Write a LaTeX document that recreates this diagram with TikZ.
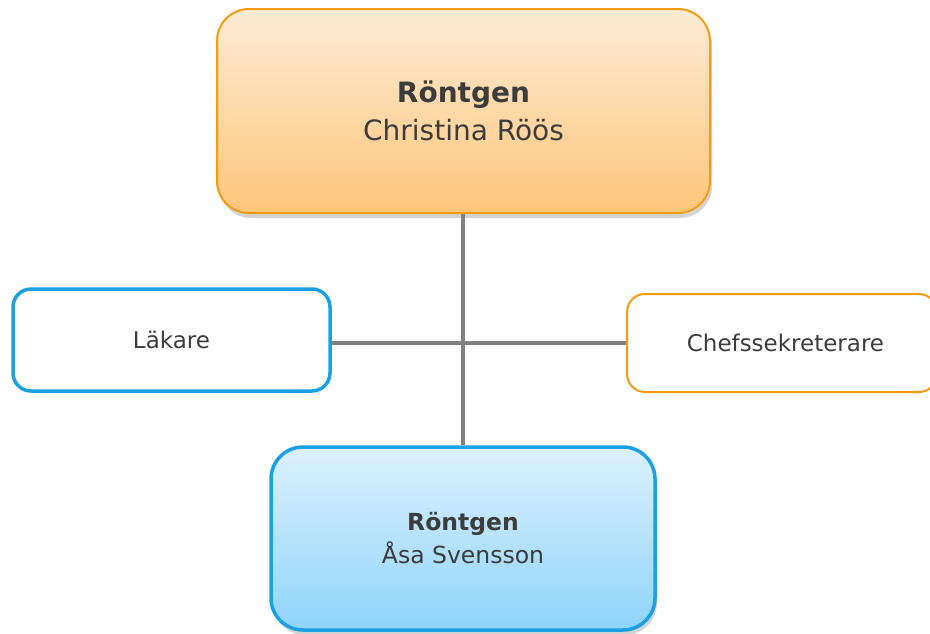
\documentclass[tikz,border=0pt]{standalone}
\usepackage{fontspec}
\setmainfont{DejaVu Sans}
\usetikzlibrary{shadows}
\definecolor{orgline}{HTML}{F39C12}
\definecolor{blueline}{HTML}{1BA1E2}
\definecolor{txt}{HTML}{3C3C3C}
\definecolor{conn}{HTML}{808080}
\definecolor{orgtop}{HTML}{FDEBD6}
\definecolor{orgbot}{HTML}{FEC67A}
\definecolor{bluetop}{HTML}{DCF1FD}
\definecolor{bluebot}{HTML}{8FD4FB}
\tikzset{
  bigbox/.style={rounded corners=32pt, align=center, text=txt, inner sep=0pt,
    drop shadow={opacity=0.35, shadow xshift=2pt, shadow yshift=-5pt}},
  smallbox/.style={rounded corners=18pt, fill=white, align=center, text=txt, inner sep=0pt,
    font=\fontsize{23}{28}\selectfont},
  connector/.style={draw=conn, line width=4pt}
}
\begin{document}
\begin{tikzpicture}[x=1pt,y=1pt]
\useasboundingbox (0,0) rectangle (930,-633);
\node[bigbox, draw=orgline, line width=2pt, top color=orgtop, bottom color=orgbot,
  minimum width=493pt, minimum height=204pt, font=\fontsize{28}{38}\selectfont]
  (top) at (463.5,-111) {\textbf{Röntgen}\\Christina Röös};
\node[bigbox, draw=blueline, line width=3.5pt, top color=bluetop, bottom color=bluebot,
  minimum width=384pt, minimum height=183pt, font=\fontsize{23.5}{33}\selectfont]
  (bot) at (463,-538.5) {\textbf{Röntgen}\\Åsa Svensson};
\node[smallbox, draw=blueline, line width=3.5pt, minimum width=317pt, minimum height=102pt]
  (lak) at (171.5,-340) {Läkare};
\node[smallbox, draw=orgline, line width=2pt, minimum width=310pt, minimum height=98pt]
  (chef) at (782,-343) {\hspace*{7pt}Chefssekreterare\hspace*{0pt}};
\draw[connector] (bot.north |- top.south) -- (bot.north);
\draw[connector] (lak.east |- chef.west) -- (chef.west);
\end{tikzpicture}
\end{document}
